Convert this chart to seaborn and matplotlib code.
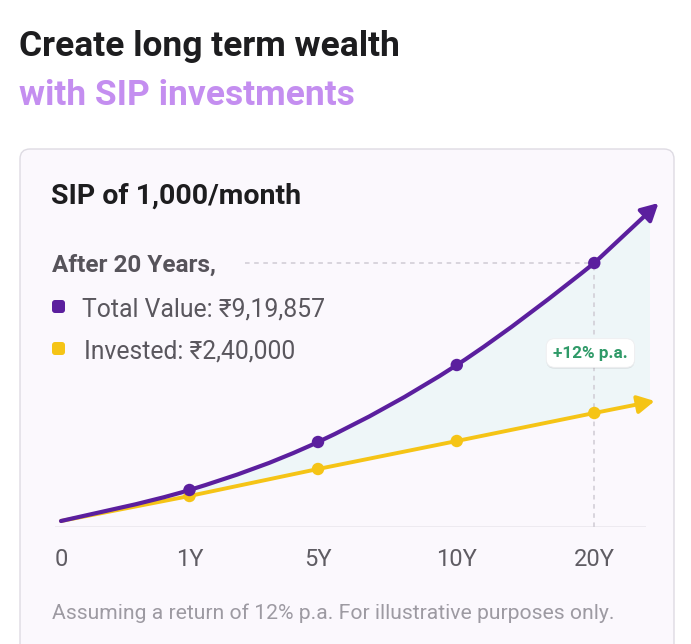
import numpy as np
import matplotlib
matplotlib.use('Agg')
import matplotlib.pyplot as plt
import matplotlib.transforms as mtransforms
from matplotlib.path import Path
from matplotlib.patches import PathPatch, FancyBboxPatch, Rectangle
import seaborn as sns

# Chart data (visual heights read off the picture, not to scale)
periods = ['0', '1Y', '5Y', '10Y', '20Y']
period_pos = [0, 1, 2, 3.08, 4.15]
total_value = [0.06, 0.37, 0.85, 1.62, 2.64]
invested = [0.06, 0.31, 0.58, 0.86, 1.14]
arrow_pos = [4.65, 4.62]
arrow_value = [3.24, 1.26]

title_lines = ['Create long term wealth', 'with SIP investments']
card_title = 'SIP of 1,000/month'
after_text = 'After 20 Years,'
legend_labels = ['Total Value: ₹9,19,857', 'Invested: ₹2,40,000']
badge_text = '+12% p.a.'
footnote = 'Assuming a return of 12% p.a. For illustrative purposes only.'

purple = '#5b1f9e'
yellow = '#f5c416'
fill_col = '#eef6f8'
grid_col = '#cfcbd4'

sns.set_theme(style='white')
plt.rcParams['font.family'] = ['Roboto', 'Noto Sans', 'DejaVu Sans']

fig = plt.figure(figsize=(6.91, 6.44), dpi=100)
fig.patch.set_facecolor('white')

# background axes in pixel units for the card and the text
bg = fig.add_axes([0, 0, 1, 1], zorder=0)
bg.set_xlim(0, 691)
bg.set_ylim(644, 0)
bg.axis('off')

card = FancyBboxPatch((20, 149), 654, 530, boxstyle='round,pad=0,rounding_size=10',
                      fc='#fbf8fd', ec='#dedbe3', lw=1.0)
bg.add_patch(card)

bg.text(19, 56, title_lines[0], fontsize=25.5, fontweight='bold', color='#1d1d1f', va='baseline')
bg.text(19, 105, title_lines[1], fontsize=25.5, fontweight='bold', color='#c48ef0', va='baseline')
bg.text(51, 204, card_title, fontsize=20.5, fontweight='bold', color='#1d1d1f', va='baseline')
bg.text(52, 272, after_text, fontsize=17.5, fontweight='bold', color='#56535a', va='baseline')

for i, (lab, col) in enumerate(zip(legend_labels, [purple, yellow])):
    yb = 316 + i * 42
    bg.add_patch(FancyBboxPatch((52, yb - 16), 13, 13, boxstyle='round,pad=0,rounding_size=3',
                                fc=col, ec='none'))
    bg.text(82 + 2 * i, yb, lab, fontsize=17.8, color='#5a575e', va='baseline')

bg.text(52, 619, footnote, fontsize=15.2, color='#9d9aa2', va='baseline')

# chart axes
ax = fig.add_axes([41 / 691, 117 / 644, 630 / 691, 337 / 644], zorder=1)
ax.set_facecolor('none')
ax.set_xlim(-0.1556, 4.747)
ax.set_ylim(0, 3.37)
for s in ax.spines.values():
    s.set_visible(False)
ax.set_yticks([])
ax.set_xticks(period_pos, periods)
ax.tick_params(axis='x', length=0, pad=15, labelsize=17, labelcolor='#5f5c63')
ax.hlines(0, -0.05, 4.55, color='#ebe8ee', lw=1.2, zorder=1)


def catmull_path(xs, ys):
    pts = np.column_stack([xs, ys])
    verts = [pts[0]]
    codes = [Path.MOVETO]
    n = len(pts)
    for i in range(n - 1):
        p0 = pts[i - 1] if i > 0 else pts[i]
        p1, p2 = pts[i], pts[i + 1]
        p3 = pts[i + 2] if i + 2 < n else pts[i + 1]
        verts += [p1 + (p2 - p0) / 6, p2 - (p3 - p1) / 6, p2]
        codes += [Path.CURVE4] * 3
    return verts, codes


# shaded gap between total value and invested
tv_x = period_pos + [arrow_pos[0]]
tv_y = total_value + [arrow_value[0]]
v, c = catmull_path(tv_x, tv_y)
inv_x = period_pos + [arrow_pos[1]]
inv_y = invested + [arrow_value[1]]
for xx, yy in zip(inv_x[::-1], inv_y[::-1]):
    v.append((xx, yy))
    c.append(Path.LINETO)
v.append(v[0])
c.append(Path.CLOSEPOLY)
fill = PathPatch(Path(v, c), fc=fill_col, ec='none', zorder=1)
ax.add_patch(fill)
fill.set_clip_path(Rectangle((-1, -1), 5.58, 6, transform=ax.transData))

# dashed guides to the 20Y value
ax.plot([1.43, period_pos[-1]], [total_value[-1]] * 2, ls=(0, (3, 3)), color=grid_col, lw=1.1, zorder=2)
ax.plot([period_pos[-1]] * 2, [0, total_value[-1]], ls=(0, (3, 3)), color=grid_col, lw=1.1, zorder=2)

# invested line
sns.lineplot(x=period_pos, y=invested, ax=ax, color=yellow, lw=2.8, zorder=3,
             solid_capstyle='round')
ax.annotate('', xy=(arrow_pos[1], arrow_value[1]), xytext=(period_pos[-1], invested[-1]),
            arrowprops=dict(arrowstyle='-|>,head_length=0.6,head_width=0.32', color=yellow,
                            lw=2.8, shrinkA=0, shrinkB=0, mutation_scale=17), zorder=3)

# total value curve
v, c = catmull_path(tv_x, tv_y)
v, c = v[:13], c[:13]
ax.add_patch(PathPatch(Path(v, c), fc='none', ec=purple, lw=3, zorder=4, capstyle='round'))
ax.annotate('', xy=(arrow_pos[0], arrow_value[0]), xytext=(period_pos[-1], total_value[-1]),
            arrowprops=dict(arrowstyle='-|>,head_length=0.6,head_width=0.32', color=purple,
                            lw=3, shrinkA=0, shrinkB=0, mutation_scale=17), zorder=4)

sns.scatterplot(x=period_pos[1:], y=invested[1:], ax=ax, color=yellow, s=80,
                edgecolor='none', zorder=5)
sns.scatterplot(x=period_pos[1:], y=total_value[1:], ax=ax, color=purple, s=80,
                edgecolor='none', zorder=6)

# return badge with a soft shadow
bx, by = period_pos[-1] - 0.03, 1.74
shadow = mtransforms.offset_copy(ax.transData, fig=fig, x=0, y=-1.5, units='dots')
ax.text(bx, by, badge_text, transform=shadow, ha='center', va='center', fontsize=12.3,
        fontweight='bold', color='none', zorder=6,
        bbox=dict(boxstyle='round,pad=0.4,rounding_size=0.5', fc='#000000', ec='none', alpha=0.08))
ax.text(bx, by, badge_text, ha='center', va='center', fontsize=12.3, fontweight='bold',
        color='#2f9a68', zorder=7,
        bbox=dict(boxstyle='round,pad=0.4,rounding_size=0.5', fc='white', ec='#eeeef0', lw=0.6))

fig.savefig('out.png', dpi=100, facecolor='white')
